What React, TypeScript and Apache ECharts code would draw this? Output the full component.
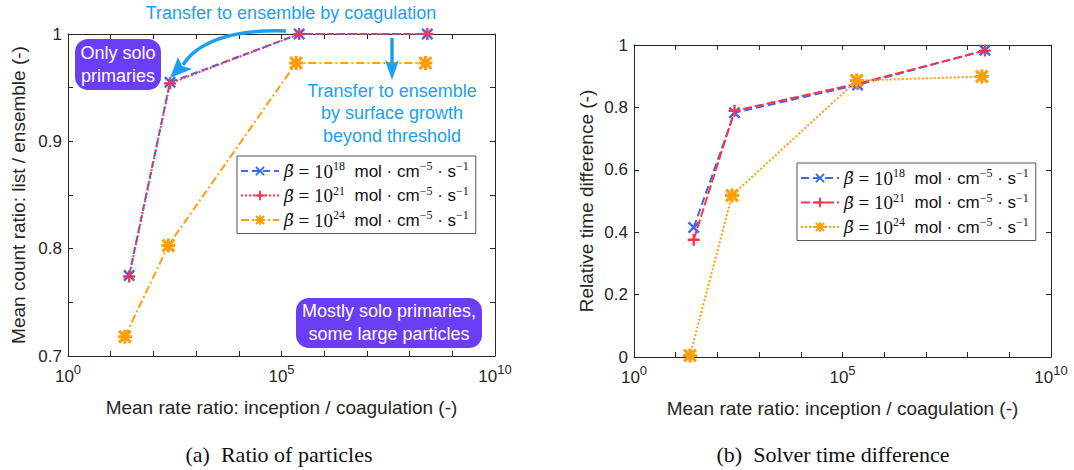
import React, { useEffect, useRef } from 'react';
import * as echarts from 'echarts';

// ---------- data ----------
const EXPONENTS = ['18', '21', '24'];
const COLORS = ['#3a68f2', '#ff3347', '#ff9d0a'];

// Panel (a): mean count ratio
const A_X_18 = [27, 245, 2.6e5, 2.6e8];
const A_Y_18 = [0.775, 0.955, 1.0, 1.0];
const A_X_21 = [27, 245, 2.6e5, 2.6e8];
const A_Y_21 = [0.774, 0.954, 1.0, 1.0];
const A_X_24 = [21.5, 224, 2.2e5, 2.35e8];
const A_Y_24 = [0.718, 0.803, 0.973, 0.973];

// Panel (b): relative time difference
const B_X_18 = [27, 257, 2.3e5, 2.6e8];
const B_Y_18 = [0.415, 0.783, 0.872, 0.983];
const B_X_21 = [27, 257, 2.3e5, 2.6e8];
const B_Y_21 = [0.376, 0.789, 0.876, 0.982];
const B_X_24 = [22, 224, 2.2e5, 2.2e8];
const B_Y_24 = [0.005, 0.518, 0.886, 0.899];

const X_TITLE = 'Mean rate ratio: inception / coagulation (-)';
const Y_TITLE_A = 'Mean count ratio: list / ensemble (-)';
const Y_TITLE_B = 'Relative time difference (-)';
const CAPTION_A = '(a)  Ratio of particles';
const CAPTION_B = '(b)  Solver time difference';

// ---------- styling ----------
const SANS = '"Liberation Sans", Arial, Helvetica, sans-serif';
const SERIF = '"Liberation Serif", "Times New Roman", serif';
const INK = '#262626';
const ANN = '#1a9ff2';
const PURPLE = '#6b3df5';

const CROSS = 'path://M0,1.4L1.4,0L10,8.6L8.6,10Z M8.6,0L10,1.4L1.4,10L0,8.6Z';
const PLUS = 'path://M4,0L6,0L6,10L4,10Z M0,4L10,4L10,6L0,6Z';
const STAR =
  'path://M3.9,0L6.1,0L6.1,10L3.9,10Z M0,3.9L10,3.9L10,6.1L0,6.1Z M0,1.6L1.6,0L10,8.4L8.4,10Z M8.4,0L10,1.6L1.6,10L0,8.4Z';
const SYMBOLS = [CROSS, PLUS, STAR];

const pairs = (xs: number[], ys: number[]) => xs.map((x, i) => [Math.log10(x), ys[i]]);

const xLabelFmt = (v: number) => {
  const e = Math.round(v);
  if (Math.abs(v - e) > 1e-6 || e % 5 !== 0) return '';
  return `{b|10}{s|${e}}`;
};

const axisLine = { show: true, onZero: false, lineStyle: { color: INK, width: 1 } };
const axisTick = { show: true, inside: true, length: 5, lineStyle: { color: INK, width: 1 } };

function xAxes(gridIndex: number) {
  const base = {
    type: 'value',
    gridIndex,
    min: 0,
    max: 10,
    interval: 1,
    axisLine,
    axisTick,
    splitLine: { show: false },
  };
  return [
    {
      ...base,
      position: 'bottom',
      name: X_TITLE,
      nameLocation: 'middle',
      nameGap: 42,
      nameTextStyle: { fontFamily: SANS, fontSize: 19, color: INK },
      axisLabel: {
        show: true,
        interval: 0,
        margin: 7,
        formatter: xLabelFmt,
        color: INK,
        rich: {
          b: { fontFamily: SANS, fontSize: 17, color: INK, lineHeight: 22, verticalAlign: 'bottom' },
          s: { fontFamily: SANS, fontSize: 13, color: INK, lineHeight: 22, verticalAlign: 'top' },
        },
      },
    },
    { ...base, position: 'top', axisLabel: { show: false } },
  ];
}

function yAxes(gridIndex: number, min: number, max: number, interval: number, title: string, gap: number, labelStep: number) {
  const base = {
    type: 'value',
    gridIndex,
    min,
    max,
    interval,
    axisLine,
    axisTick,
    splitLine: { show: false },
  };
  return [
    {
      ...base,
      position: 'left',
      name: title,
      nameLocation: 'middle',
      nameGap: gap,
      nameTextStyle: { fontFamily: SANS, fontSize: 19, color: INK },
      axisLabel: {
        show: true,
        margin: 6,
        color: INK,
        fontFamily: SANS,
        fontSize: 17,
        formatter: (v: number) => {
          const k = v / labelStep;
          if (Math.abs(k - Math.round(k)) > 1e-6) return '';
          return String(Math.round(v * 100) / 100);
        },
      },
    },
    { ...base, position: 'right', axisLabel: { show: false } },
  ];
}

const legendRich = {
  b: { fontFamily: '"DejaVu Serif", serif', fontStyle: 'italic', fontSize: 17, color: '#111', lineHeight: 22 },
  m: { fontFamily: SERIF, fontSize: 19, color: '#111', lineHeight: 22 },
  t: { fontFamily: SANS, fontSize: 17, color: '#111', lineHeight: 22 },
  sup: { fontFamily: SERIF, fontSize: 12, color: '#111', lineHeight: 13, verticalAlign: 'top' },
};

const legendFmt = (name: string) => {
  const exp = name.slice(1);
  return `{b|β\u0303}{m| = 10}{sup|${exp}}{t|  mol · cm}{sup|−5}{t| · s}{sup|−1}`;
};

function makeSeries(prefix: string, xi: number, yi: number, data: number[][][], dashes: any[]) {
  return data.map((d, i) => ({
    name: prefix + EXPONENTS[i],
    type: 'line',
    xAxisIndex: xi,
    yAxisIndex: yi,
    data: d,
    symbol: SYMBOLS[i],
    symbolSize: i === 2 ? 14 : 12,
    showSymbol: true,
    lineStyle: { color: COLORS[i], width: 2, type: dashes[i] },
    itemStyle: { color: COLORS[i], borderWidth: 0 },
    z: 3 + i,
  }));
}

function legend(prefix: string, left: number, top: number) {
  return {
    left,
    top,
    orient: 'vertical',
    data: EXPONENTS.map((e) => prefix + e),
    itemWidth: 38,
    itemHeight: 12,
    itemGap: 4,
    padding: [4, 7, 4, 3],
    backgroundColor: '#fff',
    borderColor: '#555',
    borderWidth: 1,
    selectedMode: false,
    formatter: legendFmt,
    textStyle: { rich: legendRich },
    z: 20,
  };
}

export default function App() {
  const ref = useRef<HTMLDivElement>(null);
  useEffect(() => {
    document.body.style.margin = '0';
    if (!ref.current) return;
    const chart = echarts.init(ref.current, undefined, { renderer: 'svg' });
    const annText = (text: string, x: number, y: number, fill: string, size = 18) => ({
      type: 'text',
      z: 100,
      style: { text, x, y, fill, font: `${size}px ${SANS}`, align: 'center', verticalAlign: 'middle', textAlign: 'center', textVerticalAlign: 'middle' },
    });
    const option: any = {
      animation: false,
      backgroundColor: '#fff',
      grid: [
        { left: 68, top: 34, width: 427, height: 322 },
        { left: 634, top: 45, width: 417, height: 312 },
      ],
      xAxis: [...xAxes(0), ...xAxes(1)],
      yAxis: [
        ...yAxes(0, 0.7, 1, 0.05, Y_TITLE_A, 40, 0.1),
        ...yAxes(1, 0, 1, 0.2, Y_TITLE_B, 38, 0.2),
      ],
      legend: [legend('a', 237, 156), legend('b', 797, 163)],
      series: [
        ...makeSeries('a', 0, 0, [pairs(A_X_18, A_Y_18), pairs(A_X_21, A_Y_21), pairs(A_X_24, A_Y_24)], [
          [7, 4],
          [2, 2],
          [8, 3, 2, 3],
        ]),
        ...makeSeries('b', 2, 2, [pairs(B_X_18, B_Y_18), pairs(B_X_21, B_Y_21), pairs(B_X_24, B_Y_24)], [
          [8, 4],
          [9, 3],
          [2, 2],
        ]),
      ],
      graphic: [
        annText('Transfer to ensemble by coagulation', 291, 13, ANN),
        annText('Transfer to ensemble', 392, 91, ANN),
        annText('by surface growth', 392, 113, ANN),
        annText('beyond threshold', 392, 136, ANN),
        // curved arrow
        {
          type: 'bezierCurve',
          z: 100,
          shape: { x1: 286, y1: 31, cpx1: 228, cpy1: 29, cpx2: 196, cpy2: 44, x2: 183, y2: 65 },
          style: { stroke: ANN, lineWidth: 3.5, fill: null },
        },
        {
          type: 'polygon',
          z: 100,
          shape: { points: [[170, 78], [178, 57], [182, 66], [192, 69]] },
          style: { fill: ANN },
        },
        // straight arrow
        { type: 'line', z: 100, shape: { x1: 392, y1: 38, x2: 392, y2: 66 }, style: { stroke: ANN, lineWidth: 3.5 } },
        {
          type: 'polygon',
          z: 100,
          shape: { points: [[392, 80], [385, 60], [392, 65], [399, 60]] },
          style: { fill: ANN },
        },
        // purple boxes
        { type: 'rect', z: 99, shape: { x: 75, y: 39, width: 86, height: 51, r: 13 }, style: { fill: PURPLE } },
        annText('Only solo', 118, 53, '#fff'),
        annText('primaries', 118, 76, '#fff'),
        { type: 'rect', z: 99, shape: { x: 296, y: 298, width: 186, height: 50, r: 13 }, style: { fill: PURPLE } },
        annText('Mostly solo primaries,', 389, 311, '#fff'),
        annText('some large particles', 389, 334, '#fff'),
        // captions
        {
          type: 'text',
          z: 100,
          style: { text: CAPTION_A, x: 279, y: 454, fill: '#111', font: `22px ${SERIF}`, align: 'center', verticalAlign: 'middle', textAlign: 'center', textVerticalAlign: 'middle' },
        },
        {
          type: 'text',
          z: 100,
          style: { text: CAPTION_B, x: 833, y: 454, fill: '#111', font: `22px ${SERIF}`, align: 'center', verticalAlign: 'middle', textAlign: 'center', textVerticalAlign: 'middle' },
        },
      ],
    };
    chart.setOption(option);
    return () => chart.dispose();
  }, []);
  return <div ref={ref} style={{ width: 1074, height: 470 }} />;
}
